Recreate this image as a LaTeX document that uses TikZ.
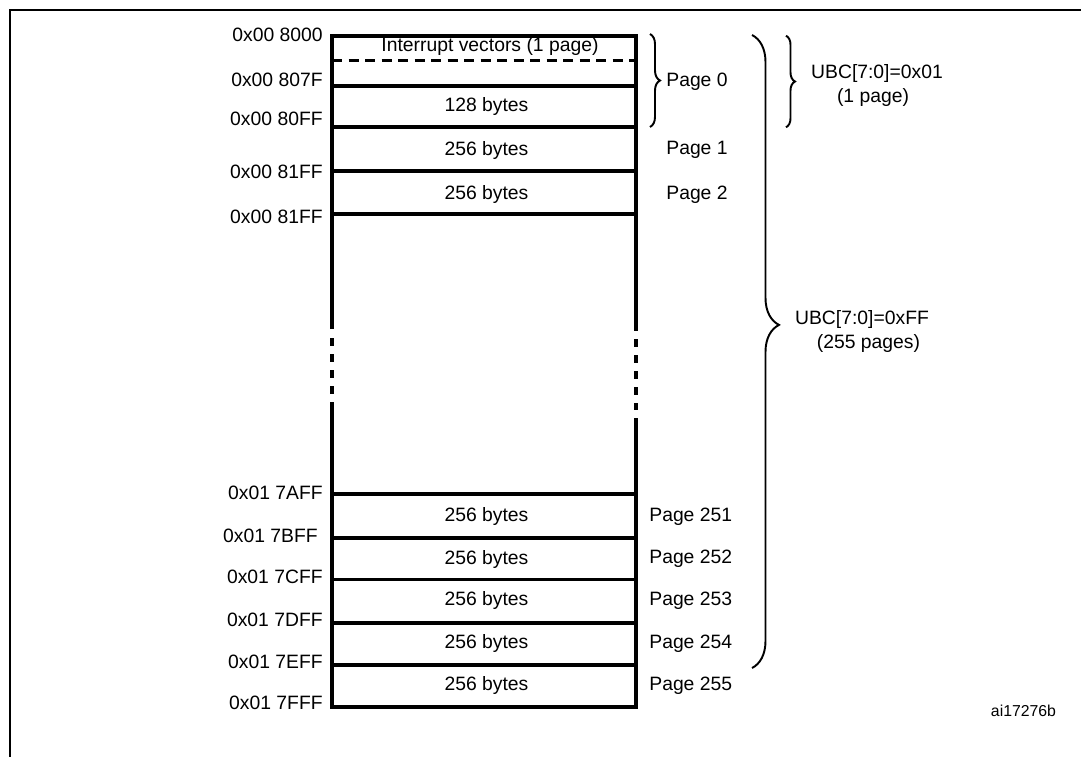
\documentclass[tikz,border=0pt]{standalone}
\usepackage{fontspec}
\setmainfont{Liberation Sans}
\usetikzlibrary{decorations.pathreplacing}

\tikzset{
  txt/.style={inner sep=0pt, text height=0.72em, text depth=0pt},
  addr/.style={txt, anchor=east},
  cell/.style={txt},
  pg/.style={txt, anchor=west},
  wall/.style={line width=2.2pt},
  brc/.style={decorate, line width=1.1pt},
}

\begin{document}
\begin{tikzpicture}[font=\fontsize{11}{13.8}\selectfont]
      \useasboundingbox (0,0) rectangle (21.62,-15.12);
      % frame
      \draw [line width=1.1pt] (0.2,-15.2) -- (0.2,-0.2) -- (21.7,-0.2);

      % memory column
      \draw [wall] (6.64,-6.58) |- (12.72,-0.714) -- (12.72,-6.62);
      \draw [wall] (6.64,-8.04) |- (12.72,-14.134) -- (12.72,-8.36);
      \draw [wall, dash pattern=on 0.16cm off 0.16cm] (6.64,-6.76) -- (6.64,-7.88);
      \draw [wall, dash pattern=on 0.16cm off 0.16cm] (12.72,-6.78) -- (12.72,-8.2);
      \draw [line width=2pt, dash pattern=on 0.2cm off 0.13cm] (6.64,-1.214) -- (12.72,-1.214);
      \draw [wall] (6.64,-1.72) -- (12.72,-1.72);
      \draw [wall] (6.64,-2.54) -- (12.72,-2.54);
      \draw [wall] (6.64,-3.414) -- (12.72,-3.414);
      \draw [wall] (6.64,-4.28) -- (12.72,-4.28);
      \draw [wall] (6.64,-9.886) -- (12.72,-9.886);
      \draw [wall] (6.64,-10.754) -- (12.72,-10.754);
      \draw [wall] (6.64,-11.59) -- (12.72,-11.59);
      \draw [wall] (6.64,-12.454) -- (12.72,-12.454);
      \draw [wall] (6.64,-13.3) -- (12.72,-13.3);

      % contents
      \node [cell] (intvec) at (9.8,-0.9) {Interrupt vectors (1 page)};
      \node [cell] (b128) at (9.73,-2.1) {128 bytes};
      \node [cell] (pg1b) at (9.73,-2.98) {256 bytes};
      \node [cell] (pg2b) at (9.73,-3.854) {256 bytes};
      \node [cell] (pg251b) at (9.73,-10.3) {256 bytes};
      \node [cell] (pg252b) at (9.73,-11.16) {256 bytes};
      \node [cell] (pg253b) at (9.73,-11.986) {256 bytes};
      \node [cell] (pg254b) at (9.73,-12.834) {256 bytes};
      \node [cell] (pg255b) at (9.73,-13.686) {256 bytes};

      % addresses
      \node [addr] (a8000) at (6.46,-0.70) {0x00 8000};
      \node [addr] (a807F) at (6.46,-1.60) {0x00 807F};
      \node [addr] (a80FF) at (6.46,-2.38) {0x00 80FF};
      \node [addr] (a81FF) at (6.46,-3.434) {0x00 81FF};
      \node [addr] (a81FFb) at (6.46,-4.334) {0x00 81FF};
      \node [addr] (a7AFF) at (6.46,-9.86) {0x01 7AFF};
      \node [addr] (a7BFF) at (6.36,-10.72) {0x01 7BFF};
      \node [addr] (a7CFF) at (6.46,-11.54) {0x01 7CFF};
      \node [addr] (a7DFF) at (6.46,-12.4) {0x01 7DFF};
      \node [addr] (a7EFF) at (6.46,-13.24) {0x01 7EFF};
      \node [addr] (a7FFF) at (6.46,-14.06) {0x01 7FFF};

      % page numbers
      \node [pg] (pg0) at (13.32,-1.6) {Page 0};
      \node [pg] (pg1) at (13.32,-2.96) {Page 1};
      \node [pg] (pg2) at (13.32,-3.854) {Page 2};
      \node [pg] (pg251) at (12.98,-10.3) {Page 251};
      \node [pg] (pg252) at (12.98,-11.134) {Page 252};
      \node [pg] (pg253) at (12.98,-11.986) {Page 253};
      \node [pg] (pg254) at (12.98,-12.834) {Page 254};
      \node [pg] (pg255) at (12.98,-13.686) {Page 255};

      % braces
      \coordinate (p0top) at (13.0,-0.68);
      \coordinate (p0bot) at (13.0,-2.54);
      \coordinate (ubcTop) at (15.72,-0.714);
      \coordinate (ubcBot) at (15.72,-2.546);
      \coordinate (bigTop) at (15.04,-0.7);
      \coordinate (bigBot) at (15.04,-13.36);
      \draw [brc, decoration={brace, amplitude=0.2cm}] (p0top) -- (p0bot);
      \draw [brc, decoration={brace, amplitude=0.18cm}] (ubcTop) -- (ubcBot);
      \draw [brc, decoration={brace, amplitude=0.54cm, aspect=0.458}] (bigTop) -- (bigBot);

      \node [txt] (ubc01) at (17.54,-1.434) {UBC[7:0]=0x01};
      \node [txt] (ubc01n) at (17.46,-1.92) {(1 page)};
      \node [txt] (ubcFF) at (17.24,-6.354) {UBC[7:0]=0xFF};
      \node [txt] (ubcFFn) at (17.37,-6.834) {(255 pages)};

      \node [txt, font=\fontsize{9}{11}\selectfont] (ref) at (20.47,-14.21) {ai17276b};
    \end{tikzpicture}
\end{document}
